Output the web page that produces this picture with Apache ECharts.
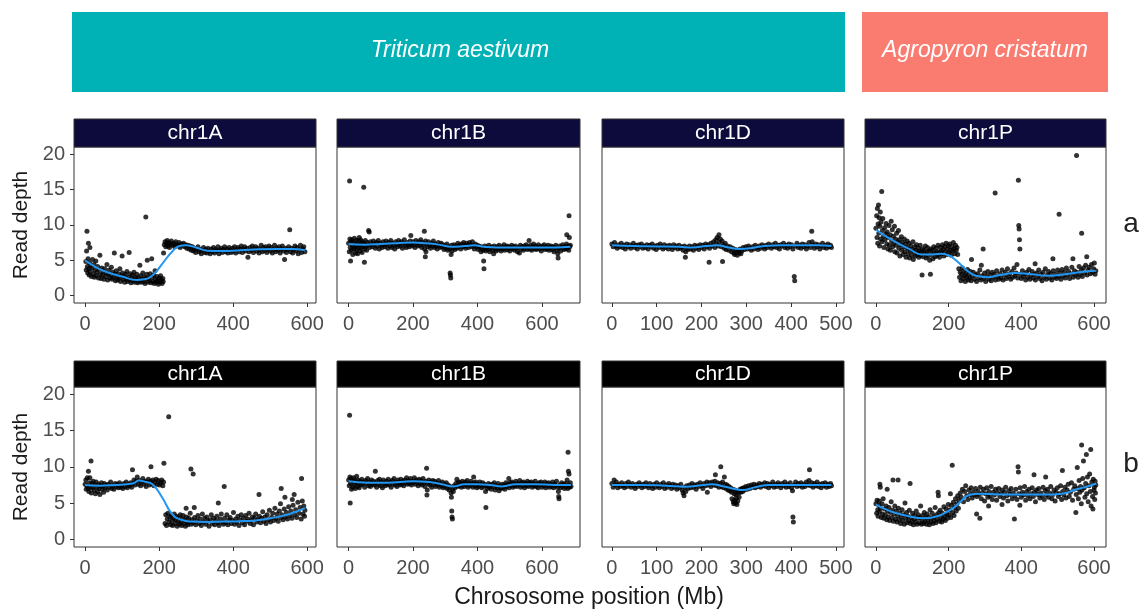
<!DOCTYPE html>
<html>
<head>
<meta charset="utf-8">
<script src="https://cdn.jsdelivr.net/npm/echarts@6/dist/echarts.min.js"></script>
<style>
  html, body { margin: 0; padding: 0; background: #fff; }
  #main { width: 1143px; height: 609px; }
</style>
</head>
<body>
<div id="main"></div>
<script>
// facet labels and axis ticks
var chromNames = ['chr1A', 'chr1B', 'chr1D', 'chr1P'];
var rowTags = ['a', 'b'];
var speciesNames = ['Triticum aestivum', 'Agropyron cristatum'];
var xMinMb = [-30, -36, -22, -30];
var xMaxMb = [624, 718, 518, 633];
var xTickMb = [[0, 200, 400, 600], [0, 200, 400, 600], [0, 100, 200, 300, 400, 500], [0, 200, 400, 600]];
var yTickDepth = [0, 5, 10, 15, 20];

// row a: read depth points [Mb, depth]
var chr1A_a = [[2,4.8],[3,3.6],[4,6.3],[5,9.1],[6,4.1],[7,3.2],[8,5.2],[9,7.4],[10,3.8],[11,2.9],[12,4.6],[13,6.8],[14,3.4],[16,4.2],[17,2.7],[19,3.9],[20,5.1],[22,3.1],[24,4.4],[25,2.6],[27,3.6],[29,4.9],[30,2.8],[32,3.3],[34,4.1],[36,2.5],[38,3.7],[40,5.7],[41,3.0],[43,2.4],[45,3.9],[47,2.9],[49,3.4],[51,2.3],[53,3.8],[55,2.7],[57,3.2],[59,4.4],[61,2.2],[63,3.0],[65,3.6],[67,2.5],[69,2.9],[71,4.0],[73,2.3],[75,3.3],[77,2.6],[79,6.0],[80,3.0],[82,2.1],[84,3.5],[86,2.7],[88,2.2],[90,3.1],[92,2.5],[94,3.8],[96,2.0],[98,2.8],[100,5.6],[101,3.2],[103,2.3],[105,2.7],[107,1.9],[109,3.0],[111,2.4],[113,3.4],[115,2.0],[117,2.6],[119,6.1],[120,2.2],[122,3.1],[124,1.8],[126,2.5],[128,2.9],[130,2.1],[132,3.3],[134,1.9],[136,2.6],[138,2.3],[140,3.0],[142,1.8],[144,2.5],[146,2.0],[148,4.3],[150,2.8],[152,1.9],[154,2.3],[156,3.2],[158,2.0],[160,2.6],[162,1.7],[164,11.1],[165,2.4],[167,3.0],[168,5.0],[170,1.9],[172,2.5],[174,2.1],[176,3.1],[178,1.8],[180,5.2],[181,2.6],[183,2.0],[185,2.9],[187,1.7],[189,3.5],[190,2.3],[192,1.9],[194,2.7],[196,2.1],[198,1.6],[200,2.5],[202,1.9],[204,2.8],[206,2.2],[208,1.7],[210,2.4],[211,2.0],
  [212,6.0],[214,7.2],[216,7.6],[218,6.9],[220,7.4],[222,7.8],[224,7.0],[226,7.5],[228,6.8],[230,7.3],[233,7.7],[236,7.1],[239,7.4],[242,6.9],[245,7.6],[248,7.2],[251,7.0],[254,7.5],[257,6.8],[260,7.3],[263,7.1],[266,7.4],[269,6.9],[272,7.2],[275,6.7],[278,7.1],[281,6.6],[284,7.0],[287,6.4],[290,6.9],[293,6.3],[296,6.7],[299,6.1],[302,6.6],[305,6.9],[308,6.2],[311,6.5],[314,5.9],[317,6.4],[320,6.8],[323,6.1],[326,6.5],[329,6.0],[332,6.7],[335,6.3],[338,5.9],[341,6.6],[344,6.2],[347,6.8],[350,6.0],[353,6.5],[356,6.3],[359,6.9],[362,5.9],[365,6.4],[368,6.7],[371,6.1],[374,6.5],[377,6.9],[380,6.2],[383,6.6],[386,6.0],[389,6.8],[392,6.4],[395,6.1],[398,6.7],[401,6.3],[404,6.9],[407,6.0],[410,6.5],[413,6.8],[416,6.2],[419,6.6],[422,7.0],[425,6.1],[428,6.5],[431,6.9],[434,6.3],[437,6.7],[440,5.4],[443,6.2],[446,6.8],[449,6.4],[452,7.0],[455,6.1],[458,6.6],[461,6.9],[464,6.3],[467,6.7],[470,6.0],[473,6.5],[476,7.1],[479,6.2],[482,6.8],[485,6.4],[488,6.9],[491,6.1],[494,6.6],[497,7.0],[500,6.3],[503,6.8],[506,6.0],[509,6.5],[512,7.1],[515,6.2],[518,6.7],[521,6.4],[524,6.9],[527,6.0],[530,6.6],[533,7.0],[536,6.3],[539,5.1],[541,6.7],[544,6.1],[547,6.5],[550,6.9],[553,9.3],[555,6.2],[558,6.7],[561,6.0],[564,6.5],[567,7.0],[570,6.3],[573,6.8],[576,5.9],[579,6.5],[582,7.1],[585,6.1],[588,6.6],[591,6.9],[594,6.2]];
var chr1B_a = [[0,7.4],[2,6.2],[3,16.2],[4,8.0],[5,6.8],[6,4.9],[7,7.6],[9,6.4],[10,7.9],[12,7.0],[13,5.8],[15,7.5],[16,6.6],[18,8.1],[19,6.9],[21,7.3],[22,6.0],[24,7.8],[25,6.5],[27,7.1],[28,5.9],[30,7.7],[31,6.7],[33,8.2],[34,7.2],[36,6.3],[37,7.9],[39,6.8],[40,7.4],[42,6.1],[43,7.6],[45,6.9],[47,15.3],[48,7.3],[49,4.7],[50,6.6],[52,7.8],[54,7.0],[56,6.4],[58,7.5],[60,7.1],[62,9.2],[64,9.0],[65,6.8],[68,7.6],[71,7.2],[74,6.9],[77,7.7],[80,7.3],[83,6.7],[86,7.5],[89,7.0],[92,7.8],[95,6.6],[98,7.4],[101,7.1],[104,6.8],[107,7.6],[110,7.2],[113,6.9],[116,7.7],[119,7.3],[122,6.7],[125,7.5],[128,7.0],[131,7.8],[134,6.8],[137,7.4],[140,7.1],[143,6.6],[146,7.6],[149,7.2],[152,6.9],[155,7.8],[158,7.3],[161,7.0],[164,7.6],[167,6.7],[170,7.4],[173,7.9],[176,7.1],[179,6.8],[182,7.5],[185,7.2],[188,6.9],[191,7.7],[193,8.5],[194,7.3],[197,7.0],[200,7.6],[203,7.2],[206,6.8],[209,7.8],[212,7.4],[215,7.0],[218,7.6],[221,7.1],[224,7.9],[227,6.8],[230,7.5],[233,7.2],[235,9.1],[236,6.6],[238,5.5],[239,7.7],[240,6.2],[242,7.3],[245,6.9],[248,7.6],[251,7.1],[254,6.7],[257,7.4],[260,7.0],[263,7.7],[266,6.8],[269,7.3],[272,7.0],[275,6.6],[278,7.5],[281,7.1],[284,6.8],[287,7.4],[290,6.9],[293,7.2],[296,6.5],[299,7.0],[302,6.7],[305,7.3],[308,6.4],[311,6.9],[314,6.6],[315,3.2],[316,2.9],[317,2.5],[318,5.8],[319,7.1],[321,6.3],[324,6.8],[327,7.2],[330,6.5],[333,7.0],[336,6.7],[339,7.4],[342,6.9],[345,7.1],[348,6.6],[351,7.3],[354,6.9],[357,7.5],[360,7.0],[363,6.7],[366,7.4],[369,7.1],[372,6.8],[375,7.5],[378,7.2],[381,6.9],[384,7.6],[387,7.0],[390,6.6],[393,7.3],[396,6.9],[399,7.1],[402,6.5],[405,7.0],[408,6.7],[411,6.2],[414,6.9],[417,6.4],[419,4.9],[420,3.8],[421,6.6],[423,7.0],[426,6.3],[429,6.8],[432,6.5],[435,7.1],[438,6.2],[441,6.7],[444,6.9],[447,6.4],[450,5.9],[452,7.0],[455,6.6],[458,6.3],[461,6.9],[464,6.5],[467,7.1],[470,6.7],[473,6.3],[476,6.9],[479,6.6],[482,7.2],[485,6.4],[488,6.8],[491,7.0],[494,6.5],[497,6.9],[500,6.3],[503,6.8],[506,7.1],[509,6.6],[512,6.9],[515,6.4],[518,7.0],[521,6.7],[524,6.2],[527,6.8],[530,6.0],[533,7.1],[536,6.6],[539,6.9],[542,6.4],[545,7.0],[548,6.7],[551,7.2],[554,6.5],[557,6.9],[560,7.8],[562,6.6],[565,7.1],[568,6.4],[571,6.9],[574,7.3],[577,6.6],[580,7.0],[583,6.5],[586,6.8],[589,7.2],[592,6.6],[595,6.9],[598,6.3],[601,7.0],[604,6.7],[607,7.2],[610,6.5],[613,6.9],[616,6.6],[619,7.1],[622,6.4],[625,6.8],[628,7.0],[631,6.5],[634,6.9],[637,6.2],[640,6.8],[643,7.1],[646,6.4],[649,5.9],[650,5.3],[652,6.7],[655,7.0],[658,6.3],[661,6.8],[664,7.2],[667,6.5],[670,6.9],[673,6.6],[676,7.3],[677,8.6],[679,6.7],[681,7.0],[683,6.4],[684,11.3],[685,8.2],[686,6.9],[688,7.1]];
var chr1D_a = [[0,7.3],[3,6.9],[6,7.5],[9,7.0],[12,6.7],[15,7.2],[18,6.9],[21,7.4],[24,6.8],[27,7.1],[30,6.6],[33,7.3],[36,6.9],[39,7.2],[42,6.7],[45,7.0],[48,7.4],[51,6.8],[54,7.1],[57,6.6],[60,7.2],[63,6.9],[66,7.3],[69,6.7],[72,7.0],[75,6.8],[78,7.2],[81,6.6],[84,7.1],[87,6.9],[90,7.3],[93,6.7],[96,7.0],[99,6.5],[102,7.1],[105,6.8],[108,7.3],[111,6.9],[114,6.6],[117,7.2],[120,6.8],[123,7.0],[126,6.6],[129,7.1],[132,6.9],[135,6.5],[138,7.2],[141,6.8],[144,7.0],[147,6.6],[150,7.1],[153,6.7],[156,6.9],[159,6.4],[162,7.0],[164,5.4],[165,6.2],[167,6.8],[170,6.5],[173,7.0],[176,6.6],[179,6.9],[182,6.4],[185,7.1],[188,6.7],[191,7.0],[194,6.5],[197,7.2],[200,6.8],[203,7.1],[206,6.6],[209,7.3],[212,6.9],[215,7.2],[217,4.7],[218,6.7],[221,7.4],[224,7.0],[227,7.6],[230,6.8],[232,7.9],[233,7.3],[235,8.2],[237,7.0],[239,8.6],[240,7.5],[242,8.0],[244,6.9],[246,7.7],[247,4.8],[249,7.1],[251,6.7],[253,7.4],[255,6.5],[258,7.0],[261,6.4],[264,6.9],[267,6.2],[270,6.7],[272,6.0],[274,5.8],[276,6.5],[278,6.1],[280,5.7],[282,6.4],[284,6.0],[286,6.6],[288,5.9],[290,6.3],[293,6.8],[296,6.5],[299,6.9],[302,6.6],[305,7.0],[308,6.7],[311,6.4],[314,6.9],[317,6.6],[320,7.1],[323,6.8],[326,6.5],[329,7.0],[332,6.7],[335,7.2],[338,6.9],[341,6.6],[344,7.1],[347,6.8],[350,7.3],[353,7.0],[356,6.7],[359,7.2],[362,6.9],[365,7.4],[368,6.8],[371,7.1],[374,6.6],[377,7.2],[380,7.0],[383,7.4],[386,6.8],[389,7.1],[392,6.7],[395,7.3],[398,6.9],[401,7.2],[404,6.6],[407,2.7],[408,2.1],[410,7.0],[413,7.4],[416,6.8],[419,7.1],[422,6.7],[425,7.3],[428,6.9],[431,7.2],[434,6.6],[437,7.0],[440,7.5],[443,6.8],[446,9.1],[447,7.6],[449,7.1],[452,6.7],[455,7.3],[458,6.9],[461,7.2],[464,6.6],[467,7.0],[470,7.4],[473,6.8],[476,7.1],[479,6.7],[482,7.3],[485,6.9],[488,7.1],[490,6.8]];
var chr1P_a = [[0,9.5],[2,11.3],[3,8.2],[4,12.3],[5,7.4],[6,10.1],[7,12.8],[8,8.8],[9,11.0],[10,7.0],[11,9.8],[12,11.8],[13,8.0],[14,10.4],[16,14.7],[17,7.6],[18,9.2],[19,10.9],[21,8.4],[22,6.8],[24,9.6],[25,7.9],[27,8.7],[28,10.2],[30,7.3],[31,9.0],[33,6.6],[34,8.2],[36,9.9],[37,7.1],[39,8.6],[40,6.4],[42,10.5],[43,7.7],[45,9.3],[46,6.9],[48,8.4],[49,7.4],[51,9.8],[52,6.2],[54,8.0],[55,7.1],[57,8.8],[58,6.0],[60,7.6],[62,9.2],[63,6.7],[65,7.9],[66,5.6],[68,7.2],[70,8.3],[71,6.4],[73,7.5],[75,5.8],[76,6.9],[78,8.0],[80,6.2],[81,7.3],[83,5.4],[85,6.8],[86,7.7],[88,5.9],[90,6.6],[91,7.4],[93,5.3],[95,6.3],[96,7.0],[98,5.7],[100,6.5],[102,7.6],[103,5.1],[105,6.2],[107,6.9],[108,5.6],[110,6.4],[112,7.2],[113,5.8],[115,6.0],[117,6.7],[118,5.4],[120,6.3],[122,7.1],[123,5.7],[125,6.1],[127,2.9],[128,6.6],[130,5.5],[132,6.4],[134,5.9],[136,7.0],[138,5.3],[140,6.2],[142,6.8],[144,5.6],[146,6.3],[148,5.0],[150,3.0],[151,6.6],[153,5.8],[155,6.4],[157,5.2],[159,6.9],[161,6.0],[163,5.5],[165,6.7],[167,6.2],[169,5.7],[171,7.1],[173,6.1],[175,5.4],[177,6.8],[179,6.3],[181,5.9],[183,7.2],[185,6.5],[187,5.6],[189,6.9],[191,6.2],[193,7.4],[195,5.8],[197,6.6],[199,7.0],[201,6.0],[203,7.3],[205,6.4],[207,5.7],[209,6.9],[211,6.3],[213,7.5],[215,6.6],[217,5.9],[219,7.1],[221,6.4],[223,6.8],[225,5.8],
  [228,3.8],[230,2.6],[232,3.3],[234,2.1],[236,3.0],[238,3.9],[240,2.4],[242,3.5],[244,2.8],[246,2.0],[248,3.2],[250,2.6],[252,3.7],[254,2.2],[256,3.0],[258,2.5],[260,3.4],[262,2.1],[263,5.1],[265,2.8],[268,3.3],[271,2.3],[274,2.9],[277,2.0],[280,3.1],[283,2.5],[286,3.6],[289,2.2],[290,4.3],[292,2.8],[295,6.6],[296,2.4],[299,3.2],[302,2.0],[305,2.7],[308,3.4],[311,2.3],[314,2.9],[317,2.1],[320,3.3],[323,2.6],[326,3.0],[328,14.5],[329,2.2],[332,3.5],[335,2.7],[338,2.3],[341,3.1],[344,2.5],[347,3.6],[350,2.2],[353,2.9],[356,3.3],[359,2.4],[362,3.8],[365,2.7],[368,3.1],[371,2.3],[374,3.4],[377,2.6],[380,3.9],[383,2.8],[386,3.2],[388,4.4],[390,2.5],[392,16.3],[393,9.9],[394,9.4],[395,7.9],[396,6.6],[397,3.0],[400,2.4],[403,3.5],[406,2.7],[409,3.1],[412,2.2],[415,3.3],[418,2.6],[421,3.7],[424,2.3],[427,2.9],[430,3.4],[433,2.5],[436,3.0],[438,4.5],[439,2.2],[442,3.2],[445,2.7],[448,3.6],[451,2.4],[454,3.0],[457,2.1],[460,3.3],[463,2.6],[466,3.8],[469,2.3],[472,2.9],[475,3.4],[478,2.5],[481,3.1],[484,2.2],[487,5.2],[488,3.5],[491,2.6],[494,3.0],[497,2.4],[500,3.6],[503,2.7],[504,11.5],[506,3.2],[509,2.3],[512,3.7],[515,2.8],[518,3.3],[521,2.5],[524,3.9],[527,2.9],[530,3.4],[533,2.4],[536,3.1],[539,4.0],[542,5.2],[543,2.6],[546,3.5],[549,2.9],[552,19.8],[553,3.3],[556,2.6],[559,4.1],[562,3.0],[565,3.6],[566,8.8],[568,2.7],[571,3.9],[574,3.2],[577,4.3],[580,5.5],[581,2.9],[584,3.6],[587,4.0],[590,3.1],[593,4.4],[596,3.3],[599,3.8],[601,4.6],[603,3.0],[605,3.5]];

// row b: read depth points [Mb, depth]
var chr1A_b = [[0,7.6],[2,8.2],[3,6.9],[5,7.4],[6,8.5],[8,7.0],[9,9.4],[10,6.6],[12,7.8],[13,8.5],[14,7.2],[16,10.8],[17,6.4],[19,7.7],[20,7.1],[22,8.0],[24,6.8],[26,7.5],[28,6.3],[30,7.9],[32,7.2],[34,6.6],[36,7.6],[38,7.0],[40,6.2],[42,7.4],[44,7.8],[46,6.9],[48,7.3],[50,6.5],[52,7.7],[54,7.1],[57,7.5],[60,6.8],[63,7.6],[66,7.2],[69,7.9],[72,7.0],[75,7.4],[78,6.9],[81,7.7],[84,7.3],[87,7.6],[90,7.1],[93,7.8],[96,7.2],[99,7.5],[102,7.0],[105,7.7],[108,7.3],[111,7.9],[114,7.1],[117,7.6],[120,7.4],[123,7.8],[126,7.2],[128,9.6],[129,7.7],[132,8.2],[135,7.5],[138,8.0],[141,8.6],[144,7.6],[147,8.1],[150,7.4],[153,7.9],[156,8.4],[159,7.6],[162,8.0],[165,7.3],[168,7.9],[171,8.3],[174,7.5],[177,8.0],[178,10.0],[180,7.7],[183,8.2],[186,7.4],[189,7.9],[192,8.3],[195,7.6],[198,8.1],[201,7.5],[204,7.8],[207,8.2],[210,7.4],[212,7.9],[213,10.5],
  [216,2.2],[218,3.4],[220,1.9],[222,2.8],[224,3.6],[226,16.9],[227,2.4],[229,3.1],[231,2.0],[233,3.3],[235,2.6],[237,1.9],[239,2.9],[241,3.5],[243,2.2],[245,2.7],[247,3.2],[249,1.8],[251,2.5],[253,3.0],[255,2.1],[257,3.4],[259,2.4],[261,1.9],[263,2.8],[265,3.3],[267,2.2],[269,2.6],[271,1.8],[273,4.3],[274,3.1],[276,2.3],[278,2.0],[280,2.9],[282,2.4],[284,3.6],[286,9.7],[287,2.1],[289,2.7],[292,9.0],[293,2.3],[295,4.4],[296,3.0],[299,2.0],[302,2.6],[305,3.3],[308,2.2],[311,2.8],[314,1.9],[317,3.5],[320,2.4],[323,2.9],[326,2.1],[329,3.1],[332,2.5],[335,1.8],[338,2.7],[341,3.4],[344,2.2],[347,2.9],[350,2.0],[353,2.6],[356,3.2],[359,2.3],[360,5.0],[362,1.9],[365,2.8],[368,3.5],[371,2.4],[374,2.1],[376,7.3],[377,2.9],[380,2.3],[383,3.4],[386,2.0],[389,2.7],[392,3.0],[395,2.2],[398,2.6],[401,3.7],[404,2.1],[407,2.8],[410,2.4],[413,3.2],[416,1.9],[419,2.7],[422,3.4],[425,2.3],[428,2.9],[431,2.0],[434,3.3],[437,2.5],[440,2.8],[443,3.6],[446,2.2],[449,2.6],[452,3.1],[455,2.0],[458,2.9],[461,3.5],[464,2.4],[467,2.7],[470,6.2],[471,3.2],[474,2.3],[477,2.9],[480,3.8],[483,2.5],[486,3.1],[489,2.2],[492,3.4],[495,2.7],[498,4.0],[501,2.4],[504,3.0],[507,3.6],[510,2.6],[513,4.3],[516,2.9],[519,3.5],[522,2.5],[525,3.9],[528,4.9],[529,3.0],[530,7.0],[532,3.4],[535,2.7],[538,4.2],[540,5.8],[541,3.1],[544,3.7],[547,2.8],[550,4.5],[553,3.3],[556,3.9],[559,2.9],[560,5.5],[562,4.7],[565,6.2],[566,3.4],[569,4.1],[572,3.0],[575,5.1],[578,3.6],[581,4.4],[584,2.8],[585,8.4],[587,5.3],[589,3.5],[591,4.6],[593,3.2],[594,4.0]];
var chr1B_b = [[0,8.2],[2,7.4],[3,17.1],[4,8.6],[5,5.0],[6,7.7],[8,8.4],[9,6.9],[11,8.0],[13,7.2],[15,8.5],[17,7.6],[19,8.1],[21,7.0],[23,7.8],[25,8.7],[27,7.3],[29,8.2],[31,7.7],[33,7.1],[35,8.0],[38,7.5],[41,8.3],[44,7.6],[47,7.9],[50,7.2],[53,8.1],[56,7.7],[59,8.4],[62,7.4],[65,7.9],[68,7.3],[71,8.2],[74,7.6],[77,8.0],[80,7.5],[83,9.4],[84,7.8],[87,7.2],[90,8.1],[93,7.6],[96,8.3],[99,7.4],[102,7.9],[105,7.1],[108,8.2],[111,7.7],[114,7.4],[117,8.0],[120,7.6],[123,8.3],[126,7.5],[129,7.9],[132,7.2],[135,8.1],[138,7.7],[141,8.4],[144,7.5],[147,7.9],[150,7.3],[153,8.2],[156,7.8],[159,7.5],[162,8.3],[165,7.6],[168,8.0],[171,7.4],[174,8.2],[177,7.8],[180,8.5],[183,7.6],[186,8.1],[189,7.7],[192,8.4],[195,7.5],[198,8.0],[201,7.8],[204,8.5],[207,7.6],[210,8.2],[213,7.9],[216,7.4],[219,8.3],[222,7.7],[225,8.1],[228,7.5],[231,8.4],[234,7.8],[237,7.3],[240,8.0],[242,9.8],[243,6.1],[244,6.8],[246,7.7],[249,8.2],[252,7.5],[255,7.9],[258,7.2],[261,8.1],[264,7.6],[267,8.0],[270,7.3],[273,7.8],[276,7.5],[279,8.1],[282,7.2],[285,7.7],[288,7.4],[291,7.9],[294,7.1],[297,7.6],[300,7.3],[303,7.8],[306,7.0],[309,7.5],[312,6.8],[315,7.3],[318,6.4],[319,5.8],[320,3.9],[321,3.1],[322,2.8],[323,7.0],[325,6.6],[327,7.4],[330,7.1],[333,7.7],[336,8.3],[338,7.3],[341,7.9],[344,7.4],[347,7.8],[350,7.2],[353,8.0],[356,7.6],[359,7.3],[362,7.9],[365,7.5],[368,8.1],[371,7.2],[374,7.7],[377,7.4],[380,8.0],[383,7.6],[386,7.2],[388,8.6],[389,7.8],[392,7.4],[395,7.9],[398,7.1],[401,7.6],[404,7.3],[407,7.9],[410,7.5],[413,7.1],[416,7.8],[419,7.3],[422,7.6],[425,6.6],[426,4.4],[428,7.4],[431,7.0],[434,7.7],[437,7.2],[440,7.5],[443,6.9],[446,7.6],[449,7.3],[452,7.8],[455,6.8],[458,7.4],[461,7.1],[464,7.7],[467,6.7],[470,7.3],[473,7.0],[476,7.6],[479,7.1],[482,7.5],[485,6.9],[488,7.8],[491,7.3],[494,7.6],[497,8.4],[498,7.1],[501,7.8],[504,7.4],[507,7.9],[510,7.2],[513,7.7],[516,7.4],[519,8.0],[522,7.3],[525,7.7],[528,7.5],[531,8.1],[534,7.2],[537,7.8],[540,7.4],[543,7.9],[546,7.1],[549,7.7],[552,7.4],[555,8.0],[558,7.3],[561,7.8],[564,7.5],[567,7.9],[570,7.2],[573,7.7],[576,7.4],[579,8.0],[582,7.3],[585,7.6],[588,7.1],[591,7.8],[594,7.5],[597,7.9],[600,7.2],[603,7.6],[606,7.4],[609,7.9],[612,7.1],[615,7.7],[618,7.4],[621,7.8],[624,7.2],[627,7.6],[630,7.3],[633,7.9],[636,7.1],[639,7.6],[642,7.4],[645,8.0],[648,7.2],[651,6.6],[652,5.9],[653,5.6],[655,7.5],[658,7.1],[661,7.8],[664,7.3],[667,7.6],[670,7.0],[673,7.7],[676,7.3],[678,8.2],[680,7.0],[681,12.0],[682,9.4],[683,7.5],[684,9.0],[686,7.2],[688,7.8],[690,7.3]];
var chr1D_b = [[0,7.7],[3,7.2],[5,8.2],[7,7.5],[10,7.9],[13,7.1],[16,7.6],[19,7.3],[22,7.8],[25,7.4],[28,7.1],[31,7.7],[34,7.3],[37,7.9],[40,7.5],[43,7.2],[46,7.7],[49,7.4],[52,7.0],[55,7.6],[58,7.3],[61,7.8],[64,7.5],[67,7.1],[70,7.6],[73,7.3],[76,7.8],[79,7.4],[82,7.1],[85,7.7],[88,7.4],[91,7.0],[94,7.6],[97,7.2],[100,7.8],[103,7.4],[106,7.1],[109,7.6],[112,7.3],[115,7.8],[118,7.0],[121,7.5],[124,7.2],[127,7.7],[130,7.4],[133,7.0],[136,7.6],[139,7.2],[142,7.5],[145,6.9],[148,7.4],[151,7.1],[154,7.6],[157,6.8],[159,6.4],[161,6.0],[163,7.2],[165,6.6],[167,7.4],[170,7.0],[173,7.5],[176,7.1],[179,7.7],[182,7.2],[185,7.5],[188,6.9],[191,7.6],[194,7.3],[197,7.8],[200,7.4],[203,7.0],[206,7.7],[209,7.4],[212,7.9],[213,6.5],[215,7.5],[218,7.8],[221,7.3],[224,7.9],[227,7.5],[230,8.0],[231,8.9],[233,7.4],[236,7.8],[239,7.2],[242,7.7],[243,10.0],[245,7.3],[247,7.9],[249,7.1],[251,8.6],[253,7.6],[255,7.0],[257,7.5],[259,6.8],[261,7.3],[263,6.7],[265,7.1],[267,6.5],[268,5.6],[270,6.9],[271,5.2],[272,4.9],[273,6.3],[274,5.4],[275,6.8],[276,5.0],[277,6.2],[278,5.7],[279,4.8],[280,6.6],[281,5.3],[283,6.4],[284,5.8],[286,6.9],[288,6.5],[290,7.0],[292,6.6],[294,7.1],[296,6.8],[299,7.3],[302,6.9],[305,7.4],[308,7.0],[311,7.5],[314,7.2],[317,7.6],[320,7.1],[323,7.5],[326,7.3],[329,7.7],[332,7.2],[335,7.6],[338,7.4],[341,7.8],[344,7.3],[347,7.7],[350,7.1],[353,7.6],[356,7.4],[359,7.9],[362,7.2],[365,7.6],[368,7.3],[371,7.8],[374,7.5],[377,7.1],[380,7.7],[383,7.4],[386,7.9],[389,7.2],[392,7.6],[395,7.3],[398,7.8],[401,7.1],[403,6.7],[404,3.1],[405,2.4],[407,7.5],[410,7.9],[413,7.3],[416,7.7],[419,7.4],[422,7.8],[425,7.2],[428,7.6],[431,7.3],[434,7.9],[437,7.5],[440,8.1],[441,9.6],[443,7.4],[446,7.8],[449,7.2],[452,7.7],[455,7.4],[458,7.9],[461,7.3],[464,7.6],[467,7.1],[470,7.7],[473,7.4],[476,7.8],[479,7.2],[482,7.6],[485,7.3],[488,7.7],[490,7.4]];
var chr1P_b = [[0,4.9],[2,3.6],[3,5.4],[5,4.1],[6,3.2],[8,4.7],[9,5.3],[10,3.8],[11,7.6],[12,7.2],[13,4.3],[15,3.0],[17,4.9],[18,3.5],[20,5.6],[22,2.9],[24,4.2],[26,3.4],[28,4.6],[30,2.7],[31,6.9],[32,3.9],[34,3.1],[36,4.4],[38,2.6],[40,3.7],[42,5.2],[44,3.0],[46,4.0],[47,8.2],[48,2.5],[50,3.5],[52,4.6],[54,2.8],[56,3.9],[58,2.4],[60,3.3],[61,8.2],[62,4.3],[64,2.7],[66,3.6],[68,2.2],[70,3.1],[72,4.1],[74,2.6],[76,3.4],[78,2.1],[80,5.0],[82,2.9],[84,3.7],[86,2.3],[88,3.2],[90,2.6],[92,4.0],[94,7.7],[95,2.2],[97,3.0],[99,2.5],[101,3.6],[103,2.0],[105,2.8],[107,3.3],[109,2.4],[111,3.9],[113,2.1],[115,2.9],[117,3.4],[119,2.3],[121,3.0],[123,4.6],[125,2.1],[127,2.7],[129,3.3],[131,2.2],[133,3.7],[135,2.5],[137,3.0],[139,2.1],[141,3.5],[143,2.6],[145,3.1],[147,2.0],[149,4.1],[151,2.4],[153,2.9],[155,3.6],[157,2.2],[159,3.1],[161,2.6],[163,4.4],[165,2.3],[167,3.4],[169,2.8],[171,6.5],[172,6.0],[173,3.7],[175,2.5],[177,4.0],[179,3.0],[181,2.4],[183,3.6],[185,2.8],[187,4.5],[189,3.2],[191,2.6],[193,4.2],[195,3.5],[197,2.9],[199,4.8],[201,3.4],[203,4.1],[205,6.3],[206,3.0],[208,4.7],[210,10.2],[211,3.7],[213,5.1],[215,3.3],[217,4.4],[219,5.6],[221,3.9],[223,4.9],[225,6.0],[227,4.3],[229,5.4],
  [232,6.4],[235,5.8],[238,6.9],[241,5.2],[244,6.6],[247,7.4],[250,6.0],[253,5.5],[256,6.8],[259,6.2],[262,7.1],[265,5.7],[268,6.5],[271,6.1],[274,7.0],[277,3.5],[278,5.9],[281,6.6],[284,6.2],[286,2.9],[287,7.2],[290,5.6],[293,6.4],[296,6.9],[299,5.3],[302,6.3],[305,7.1],[308,5.8],[310,4.6],[311,6.6],[314,6.0],[317,7.3],[320,5.5],[323,6.5],[326,6.1],[329,6.9],[332,5.4],[335,6.4],[338,7.0],[341,5.9],[344,6.3],[347,4.8],[348,6.8],[351,5.7],[354,6.5],[357,7.2],[360,6.0],[363,5.3],[366,6.7],[369,6.2],[372,7.0],[375,5.6],[378,6.4],[381,2.8],[382,6.0],[385,6.9],[388,5.5],[391,10.0],[392,9.3],[393,6.3],[396,4.7],[397,7.1],[400,5.8],[403,6.5],[406,6.1],[409,7.3],[412,5.4],[415,6.6],[418,6.0],[421,6.9],[424,5.6],[427,6.3],[430,7.1],[433,5.9],[435,8.9],[436,6.5],[439,5.2],[442,6.8],[445,6.2],[448,7.0],[451,5.7],[454,6.4],[457,6.0],[460,7.2],[463,5.5],[466,6.7],[467,8.6],[469,6.1],[472,6.9],[475,5.8],[478,6.4],[481,7.3],[484,5.6],[487,6.2],[490,6.8],[493,5.3],[496,6.5],[499,7.1],[502,5.9],[505,6.3],[508,7.4],[511,5.5],[513,9.5],[514,6.6],[517,6.1],[520,7.2],[523,5.7],[526,6.8],[529,7.6],[532,5.9],[535,6.5],[538,7.8],[541,5.4],[544,6.9],[547,7.4],[550,3.7],[551,6.2],[554,9.9],[555,7.0],[557,5.6],[559,8.1],[561,6.5],[563,7.3],[565,4.9],[566,13.0],[567,6.8],[569,8.4],[571,10.8],[573,7.1],[575,5.8],[577,7.7],[579,11.7],[580,6.3],[582,8.6],[584,5.2],[586,7.4],[588,9.0],[590,6.6],[591,12.4],[592,4.6],[594,7.9],[596,5.9],[597,4.2],[598,8.3],[600,6.8],[601,7.2],[602,5.5],[603,8.0],[604,6.4],[605,7.5]];

// smoothed fits [Mb, depth]
var fit1A_a = [[0,5.0],[30,4.0],[60,3.3],[100,2.7],[140,2.2],[160,2.3],[185,3.0],[210,4.6],[235,6.2],[255,7.0],[270,7.1],[300,6.8],[330,6.35],[370,6.3],[420,6.4],[470,6.55],[520,6.6],[560,6.6],[594,6.4]];
var fit1B_a = [[0,7.3],[50,7.2],[100,7.3],[150,7.4],[200,7.5],[240,7.4],[280,7.2],[320,6.9],[360,7.0],[390,7.1],[420,6.9],[460,6.8],[520,6.8],[580,6.8],[640,6.8],[688,6.9]];
var fit1D_a = [[0,7.1],[50,7.0],[100,6.95],[150,6.9],[180,6.8],[210,7.0],[235,7.1],[260,6.8],[285,6.6],[310,6.7],[340,7.0],[380,7.1],[420,7.1],[460,7.1],[490,7.0]];
var fit1P_a = [[0,9.3],[30,8.3],[60,7.4],[95,6.5],[126,5.8],[150,5.8],[176,5.9],[200,5.7],[215,5.2],[235,4.3],[254,3.4],[275,2.8],[305,2.6],[340,2.9],[383,3.2],[430,3.0],[474,2.8],[520,3.0],[560,3.3],[605,3.5]];
var fit1A_b = [[0,7.5],[38,7.4],[80,7.5],[128,7.7],[146,8.1],[165,7.9],[182,7.6],[208,5.8],[235,3.5],[260,2.7],[290,2.45],[326,2.4],[370,2.45],[415,2.5],[460,2.6],[500,2.9],[552,3.5],[594,4.3]];
var fit1B_b = [[0,8.0],[60,7.8],[120,7.8],[200,8.0],[250,7.9],[290,7.6],[325,7.3],[360,7.6],[400,7.6],[440,7.5],[475,7.3],[520,7.6],[580,7.6],[640,7.5],[690,7.5]];
var fit1D_b = [[0,7.5],[60,7.5],[120,7.4],[165,7.25],[200,7.45],[222,7.6],[250,7.3],[275,6.95],[292,6.8],[320,7.2],[350,7.5],[400,7.5],[450,7.5],[490,7.5]];
var fit1P_b = [[0,4.8],[25,4.2],[50,3.7],[90,3.2],[132,2.9],[169,3.2],[195,3.8],[215,4.4],[235,5.3],[251,6.0],[270,6.25],[288,6.3],[340,6.2],[398,6.2],[450,6.2],[490,6.2],[520,6.35],[545,6.8],[575,7.2],[606,7.7]];

var pointsByRow = [[chr1A_a, chr1B_a, chr1D_a, chr1P_a], [chr1A_b, chr1B_b, chr1D_b, chr1P_b]];
var fitsByRow = [[fit1A_a, fit1B_a, fit1D_a, fit1P_a], [fit1A_b, fit1B_b, fit1D_b, fit1P_b]];

// layout (pixels)
var colLeft = [74, 337, 602, 865];
var colWidth = [242, 243, 242, 241];
var rowTop = [147, 387];
var rowHeight = [156, 160];
var stripHeight = [28, 26];
var stripColor = ['#0c0b3c', '#000000'];
var fontFamily = '"Liberation Sans", Arial, Helvetica, sans-serif';

var chart = echarts.init(document.getElementById('main'));

var grids = [], xAxes = [], yAxes = [], series = [], graphics = [];

for (var r = 0; r < 2; r++) {
    for (var c = 0; c < 4; c++) {
        var idx = r * 4 + c;
        grids.push({
            left: colLeft[c],
            top: rowTop[r],
            width: colWidth[c],
            height: rowHeight[r],
            show: true,
            borderColor: '#333333',
            borderWidth: 1,
            backgroundColor: '#ffffff'
        });
        xAxes.push({
            type: 'value',
            gridIndex: idx,
            min: xMinMb[c],
            max: xMaxMb[c],
            axisLine: { show: false, onZero: false },
            splitLine: { show: false },
            axisTick: { show: true, length: 4, lineStyle: { color: '#333333' }, customValues: xTickMb[c] },
            axisLabel: { show: true, color: '#4d4d4d', fontSize: 20, margin: 11, fontFamily: fontFamily, customValues: xTickMb[c] }
        });
        var firstCol = c === 0;
        yAxes.push({
            type: 'value',
            gridIndex: idx,
            min: -1.05,
            max: 21,
            name: firstCol ? 'Read depth' : '',
            nameLocation: 'middle',
            nameGap: 42,
            nameRotate: 90,
            nameTextStyle: { color: '#1a1a1a', fontSize: 21, fontFamily: fontFamily },
            axisLine: { show: false, onZero: false },
            splitLine: { show: false },
            axisTick: { show: firstCol, length: 4, lineStyle: { color: '#333333' }, customValues: yTickDepth },
            axisLabel: { show: firstCol, color: '#4d4d4d', fontSize: 20, margin: 9, fontFamily: fontFamily, customValues: yTickDepth }
        });
        series.push({
            type: 'scatter',
            xAxisIndex: idx,
            yAxisIndex: idx,
            data: pointsByRow[r][c],
            symbolSize: 5,
            itemStyle: { color: '#000000' },
            z: 2
        });
        series.push({
            type: 'line',
            xAxisIndex: idx,
            yAxisIndex: idx,
            data: fitsByRow[r][c],
            smooth: true,
            showSymbol: false,
            symbol: 'none',
            lineStyle: { color: '#2196f3', width: 2 },
            z: 3
        });
        // facet strip
        graphics.push({
            type: 'rect',
            shape: { x: colLeft[c], y: rowTop[r] - stripHeight[r], width: colWidth[c], height: stripHeight[r] },
            style: { fill: stripColor[r], stroke: '#333333', lineWidth: 1 }
        });
        graphics.push({
            type: 'text',
            x: colLeft[c] + colWidth[c] / 2,
            y: rowTop[r] - stripHeight[r] / 2,
            style: { text: chromNames[c], fill: '#ffffff', font: '21px ' + fontFamily, textAlign: 'center', textVerticalAlign: 'middle' }
        });
    }
    graphics.push({
        type: 'text',
        x: 1131,
        y: rowTop[r] + 77,
        style: { text: rowTags[r], fill: '#222222', font: '28px ' + fontFamily, textAlign: 'center', textVerticalAlign: 'middle' }
    });
}

// species banners
graphics.push({ type: 'rect', shape: { x: 72, y: 12, width: 773, height: 80 }, style: { fill: '#00b2b5' } });
graphics.push({ type: 'rect', shape: { x: 862, y: 12, width: 246, height: 80 }, style: { fill: '#fa7b70' } });
graphics.push({
    type: 'text', x: 460, y: 51,
    style: { text: speciesNames[0], fill: '#ffffff', font: 'italic 23px ' + fontFamily, textAlign: 'center', textVerticalAlign: 'middle' }
});
graphics.push({
    type: 'text', x: 985, y: 51,
    style: { text: speciesNames[1], fill: '#ffffff', font: 'italic 23px ' + fontFamily, textAlign: 'center', textVerticalAlign: 'middle' }
});
graphics.push({
    type: 'text', x: 589, y: 598,
    style: { text: 'Chrososome position (Mb)', fill: '#1a1a1a', font: '23px ' + fontFamily, textAlign: 'center', textVerticalAlign: 'middle' }
});

chart.setOption({
    animation: false,
    backgroundColor: '#ffffff',
    grid: grids,
    xAxis: xAxes,
    yAxis: yAxes,
    series: series,
    graphic: graphics
});
</script>
</body>
</html>
